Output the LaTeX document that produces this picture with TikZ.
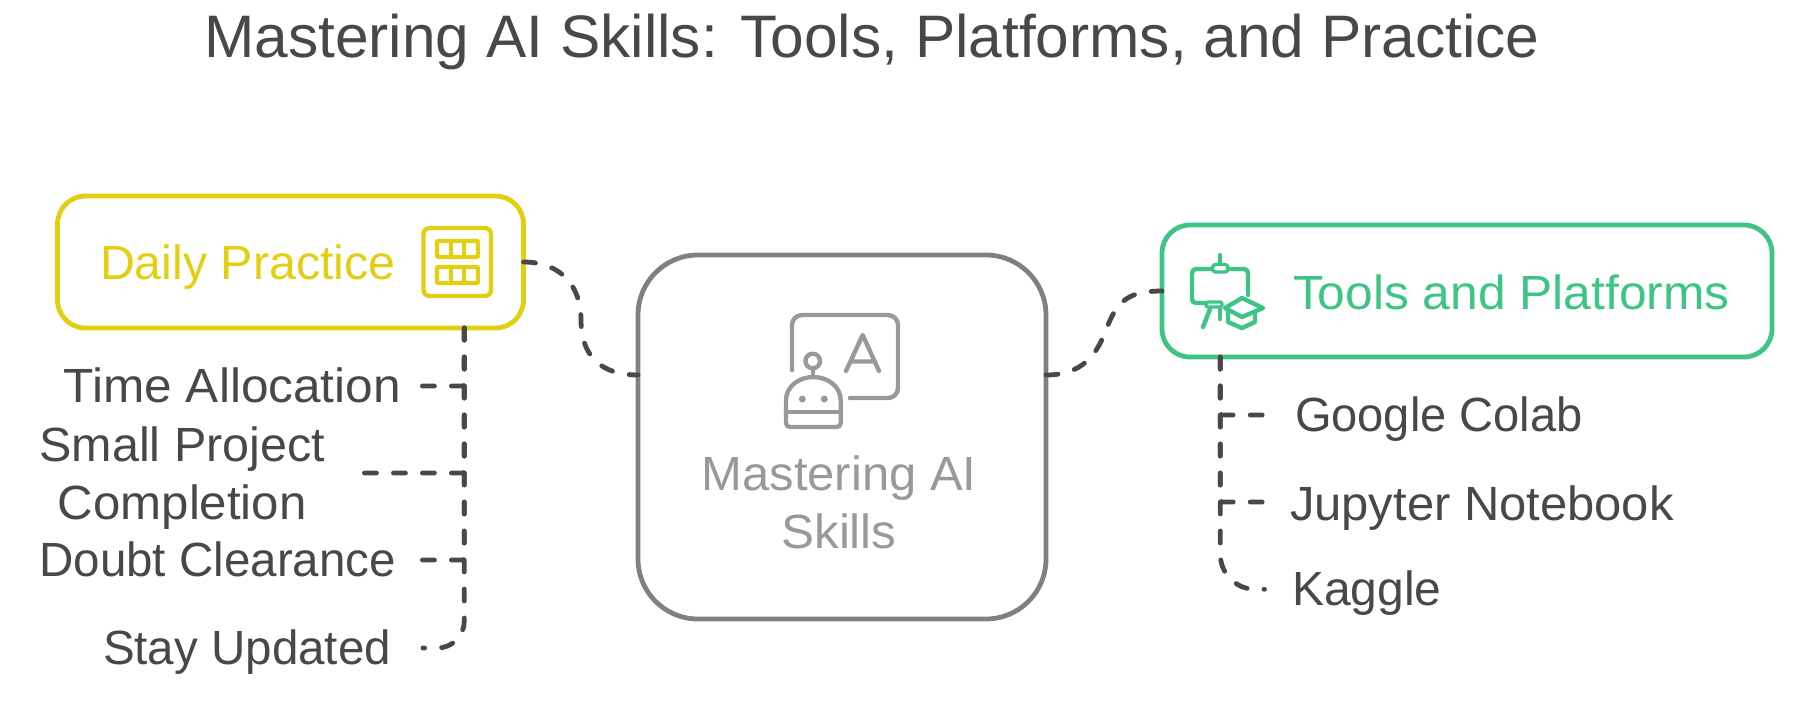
\documentclass[tikz,border=0pt]{standalone}
\usepackage{fontspec}
\usepackage{graphicx}
\setmainfont{Liberation Sans}
\definecolor{ink}{HTML}{484848}
\definecolor{dailyc}{HTML}{E3CF12}
\definecolor{toolc}{HTML}{3CC583}
\definecolor{midc}{HTML}{808080}
\definecolor{midt}{HTML}{999999}
\newcommand{\wfit}[2]{\scalebox{#1}[1]{#2}}
\tikzset{
 boxn/.style={draw,rounded corners=28pt,line width=4.8pt,inner sep=0pt,outer sep=0pt},
 txt/.style={inner sep=0pt,outer sep=0pt,font=\fontsize{48}{58}\selectfont,text=ink},
 lbl/.style={txt,text height=32pt,text depth=0pt},
 conn/.style={draw=ink,line width=4.8pt,line cap=round,dash pattern=on 12pt off 17pt},
 icon/.style={line width=4.4pt,line cap=round,line join=round},
}
\begin{document}
\begin{tikzpicture}[x=1pt,y=-1pt]
\useasboundingbox (0,0) rectangle (1810,716);
\node[txt,anchor=base,font=\fontsize{60}{66}\selectfont] (title) at (872,57) {\wfit{1.007}{Mastering AI Skills: Tools, Platforms, and Practice}};
% boxes
\node[boxn,draw=dailyc,minimum width=466pt,minimum height=132pt] (dp) at (290.5,262) {};
\node[boxn,draw=midc,rounded corners=60pt,minimum width=408pt,minimum height=364pt] (mc) at (842,437) {};
\node[boxn,draw=toolc,minimum width=610pt,minimum height=132pt] (ts) at (1467,291) {};
% box texts
\node[txt,anchor=base west,text=dailyc] (dptext) at (100,279.5) {\wfit{1.007}{Daily Practice}};
\node[txt,anchor=base west,text=toolc] (tstext) at (1293,309) {\wfit{1.036}{Tools and Platforms}};
\node[txt,anchor=center,text=midt,align=center] (mctext) at (839,502) {\wfit{1.02}{Mastering AI}\\\wfit{1.03}{Skills}};
% labels
\coordinate (ltrunk) at (464.3,0);
\coordinate (rtrunk) at (1220.3,0);
\node[lbl,anchor=base east,inner xsep=21pt] (a1) at (422,402) {\wfit{1.033}{Time Allocation}};
\node[txt,anchor=east,align=center,inner xsep=39pt] (a2) at (364,477.6) {\wfit{1.01}{Small Project}\\\wfit{1.025}{Completion}};
\node[lbl,anchor=base east,inner xsep=26pt] (a3) at (422,576) {\wfit{0.99}{Doubt Clearance}};
\node[lbl,anchor=base east,inner xsep=32pt] (a4) at (423,664) {\wfit{0.99}{Stay Updated}};
\node[lbl,anchor=base west,inner xsep=30pt] (b1) at (1265,431) {\wfit{0.98}{Google Colab}};
\node[lbl,anchor=base west,inner xsep=25pt,text height=36pt] (b2) at (1265,520) {\wfit{1.02}{Jupyter Notebook}};
\node[lbl,anchor=base west,inner xsep=27.5pt] (b3) at (1264.5,605.3) {Kaggle};
% connectors
\draw[conn] (dp.east) .. controls (560,262) and (581,285) .. (581,320) .. controls (581,355) and (600,375) .. ([yshift=62pt]mc.west);
\draw[conn] ([yshift=62pt]mc.east) .. controls (1090,375) and (1100,345) .. (1108,325) .. controls (1118,300) and (1130,291) .. (ts.west);
\draw[conn,rounded corners=1.5pt] (dp.south -| ltrunk) |- (a1.east);
\draw[conn,rounded corners=1.5pt] (dp.south -| ltrunk) |- ([yshift=4.6pt]a2.east);
\draw[conn,rounded corners=1.5pt] (dp.south -| ltrunk) |- (a3.east);
\draw[conn,rounded corners=27pt] (dp.south -| ltrunk) |- (a4.east);
\draw[conn,rounded corners=1.5pt] (ts.south -| rtrunk) |- (b1.west);
\draw[conn,rounded corners=1.5pt] (ts.south -| rtrunk) |- (b2.west);
\draw[conn,rounded corners=35pt] (ts.south -| rtrunk) |- (b3.west);
% daily icon
\begin{scope}[icon,draw=dailyc]
\draw[rounded corners=6pt] (423.5,228) rectangle (491,296);
\draw[rounded corners=1pt] (437,241) rectangle (478,257);
\draw[rounded corners=1pt] (437,267) rectangle (478,283);
\draw (451,241) -- (451,257) (464,241) -- (464,257) (451,267) -- (451,283) (464,267) -- (464,283);
\end{scope}
% robot icon
\begin{scope}[icon,draw=midt]
\draw[rounded corners=10pt] (792,370) -- (792,315) -- (898,315) -- (898,398) -- (850,398);
\draw (846,371) -- (862.7,335) -- (879,371) (851,361.5) -- (875,361.5);
\draw (812.7,361) circle (7.3pt);
\draw (812.7,368.3) -- (812.7,377);
\draw[rounded corners=4pt] (786,400) -- (786,427) -- (840.7,427) -- (840.7,400);
\draw (786,400) arc[start angle=180,end angle=0,x radius=27.35pt,y radius=23pt];
\draw (786,412) -- (840.7,412);
\fill[midt] (802.3,399) circle (3.5pt) (824.3,399) circle (3.5pt);
\end{scope}
% tools icon
\begin{scope}[icon,draw=toolc]
\draw (1220,255) -- (1220,264);
\draw[rounded corners=3pt,line width=3.4pt] (1212.5,264.5) rectangle (1228,272);
\draw[rounded corners=4pt] (1248,295) -- (1248,269) -- (1228,269) (1212,269) -- (1192,269) -- (1192,303) -- (1206,303);
\draw[rounded corners=2pt,line width=3.4pt] (1206,302) rectangle (1222,307);
\draw (1210,309) -- (1203,327);
\draw (1220,309) -- (1220,319);
\draw (1225,308) -- (1242,298) -- (1263,308) -- (1242,317) -- cycle;
\draw (1228,312) -- (1228,322) -- (1242,328) -- (1255,322) -- (1255,312);
\end{scope}
\end{tikzpicture}
\end{document}
